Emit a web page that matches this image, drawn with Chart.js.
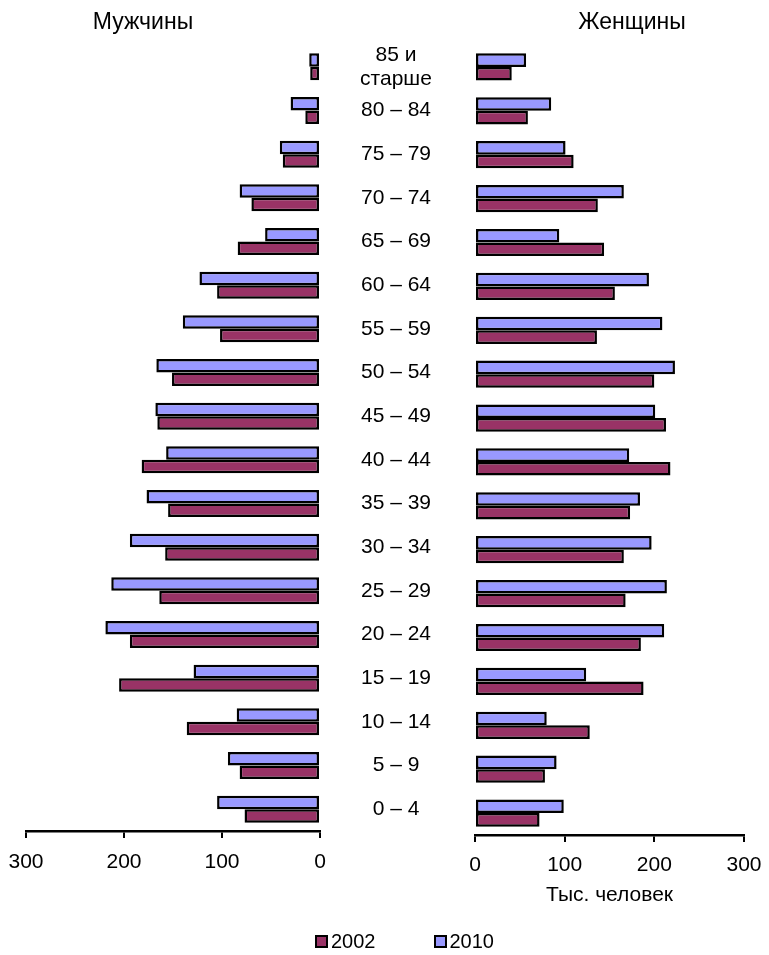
<!DOCTYPE html>
<html>
<head>
<meta charset="utf-8">
<script src="https://cdn.jsdelivr.net/npm/chart.js@4.4.1/dist/chart.umd.min.js"></script>
<style>
  body { margin: 0; background: #fff; font-family: "Liberation Sans", Arial, sans-serif; }
  #wrap { position: relative; width: 769px; height: 955px; }
  #wrap canvas { position: absolute; left: 0; top: 0; }
  .head { position: absolute; top: 8px; font-size: 23px; color: #000; transform: translateX(-50%); white-space: nowrap; }
  #legend { position: absolute; top: 930px; left: 20px; width: 769px; text-align: center; font-size: 20px; color: #000; }
  #legend span.item { display: inline-block; margin: 0 29px; }
  #legend i { display: inline-block; width: 9px; height: 9px; border: 2px solid #000; margin-right: 3px; vertical-align: 0px; }
</style>
</head>
<body>
<div id="wrap">
  <canvas id="men" width="769" height="955"></canvas>
  <canvas id="women" width="769" height="955"></canvas>
  <div class="head" style="left:143px">Мужчины</div>
  <div class="head" style="left:632px">Женщины</div>
  <div id="legend"></div>
</div>
<script>
// age groups, top to bottom
var ageGroups = [['85 и', 'старше'], '80 – 84', '75 – 79', '70 – 74', '65 – 69', '60 – 64',
  '55 – 59', '50 – 54', '45 – 49', '40 – 44', '35 – 39', '30 – 34', '25 – 29',
  '20 – 24', '15 – 19', '10 – 14', '5 – 9', '0 – 4'];

// thousands of people
var men2010   = [11, 30, 41, 82, 56, 123, 140, 167, 168, 157, 177, 194, 213, 219, 129, 85, 94, 105];
var men2002   = [10, 15, 38, 70, 84, 105, 102, 151, 166, 182, 155, 158, 164, 194, 205, 136, 82, 77];
var women2010 = [57, 85, 101, 166, 94, 194, 209, 223, 201, 172, 184, 197, 214, 211, 124, 80, 91, 99];
var women2002 = [41, 59, 110, 137, 144, 156, 136, 200, 213, 218, 173, 166, 168, 185, 188, 128, 78, 72];

var xTicks = [0, 100, 200, 300];
var years = ['2002', '2010'];
var colors = {'2002': '#993366', '2010': '#9999FF'};

var FONT = '"Liberation Sans", Arial, sans-serif';
Chart.defaults.font.family = FONT;
Chart.defaults.color = '#000';

function barSet(label, data){
	return {
		label: label,
		data: data,
		backgroundColor: colors[label],
		borderColor: '#000',
		borderWidth: 2.5,
		borderSkipped: false,
		categoryPercentage: 0.62,
		barPercentage: 1.0
	};
}

function xAxis(reverse, tickPad, axisHeight, title){
	return {
		type: 'linear',
		reverse: reverse,
		min: 0, max: 300,
		afterBuildTicks: function(s){ s.ticks = xTicks.map(function(v){ return {value: v}; }); },
		afterFit: function(s){ s.height = axisHeight; s.paddingLeft = 0; s.paddingRight = 0; },
		grid: { drawOnChartArea: false, drawTicks: true, tickLength: 7, color: '#000', lineWidth: 2 },
		border: { display: true, color: '#000', width: 2.5 },
		ticks: { font: { size: 21 }, padding: tickPad, maxRotation: 0 },
		title: title
	};
}

// age labels in the gap between the two halves
var ageLabels = {
	id: 'ageLabels',
	afterDraw: function(chart){
		var ctx = chart.ctx, y = chart.scales.y;
		ctx.save();
		ctx.font = '21px ' + FONT;
		ctx.fillStyle = '#000';
		ctx.textAlign = 'center';
		ctx.textBaseline = 'middle';
		ageGroups.forEach(function(lab, i){
			var py = y.getPixelForValue(i);
			var lines = Array.isArray(lab) ? lab : [lab];
			lines.forEach(function(t, k){
				ctx.fillText(t, 396, py + (k - (lines.length - 1) / 2) * 24);
			});
		});
		ctx.restore();
	}
};

var common = {
	indexAxis: 'y',
	responsive: false,
	animation: false,
	devicePixelRatio: 1,
	plugins: { legend: { display: false }, tooltip: { enabled: false } }
};

new Chart(document.getElementById('men'), {
	type: 'bar',
	data: { labels: ageGroups, datasets: [barSet('2010', men2010), barSet('2002', men2002)] },
	options: Object.assign({}, common, {
		layout: { padding: { left: 26, right: 449, top: 45, bottom: 64 } },
		scales: {
			x: xAxis(true, 12, 60, { display: false }),
			y: { display: false }
		}
	}),
	plugins: [ageLabels]
});

new Chart(document.getElementById('women'), {
	type: 'bar',
	data: { labels: ageGroups, datasets: [barSet('2010', women2010), barSet('2002', women2002)] },
	options: Object.assign({}, common, {
		layout: { padding: { left: 475, right: 25, top: 45, bottom: 40 } },
		scales: {
			x: xAxis(false, 11, 80, { display: true, text: 'Тыс. человек', font: { size: 21 }, padding: { top: 0, bottom: 7 } }),
			y: { display: false }
		}
	})
});

// legend
var $leg = document.getElementById('legend');
years.forEach(function(yr){
	var s = document.createElement('span');
	s.className = 'item';
	s.innerHTML = '<i style="background:' + colors[yr] + '"></i>' + yr;
	$leg.appendChild(s);
});
</script>
</body>
</html>
